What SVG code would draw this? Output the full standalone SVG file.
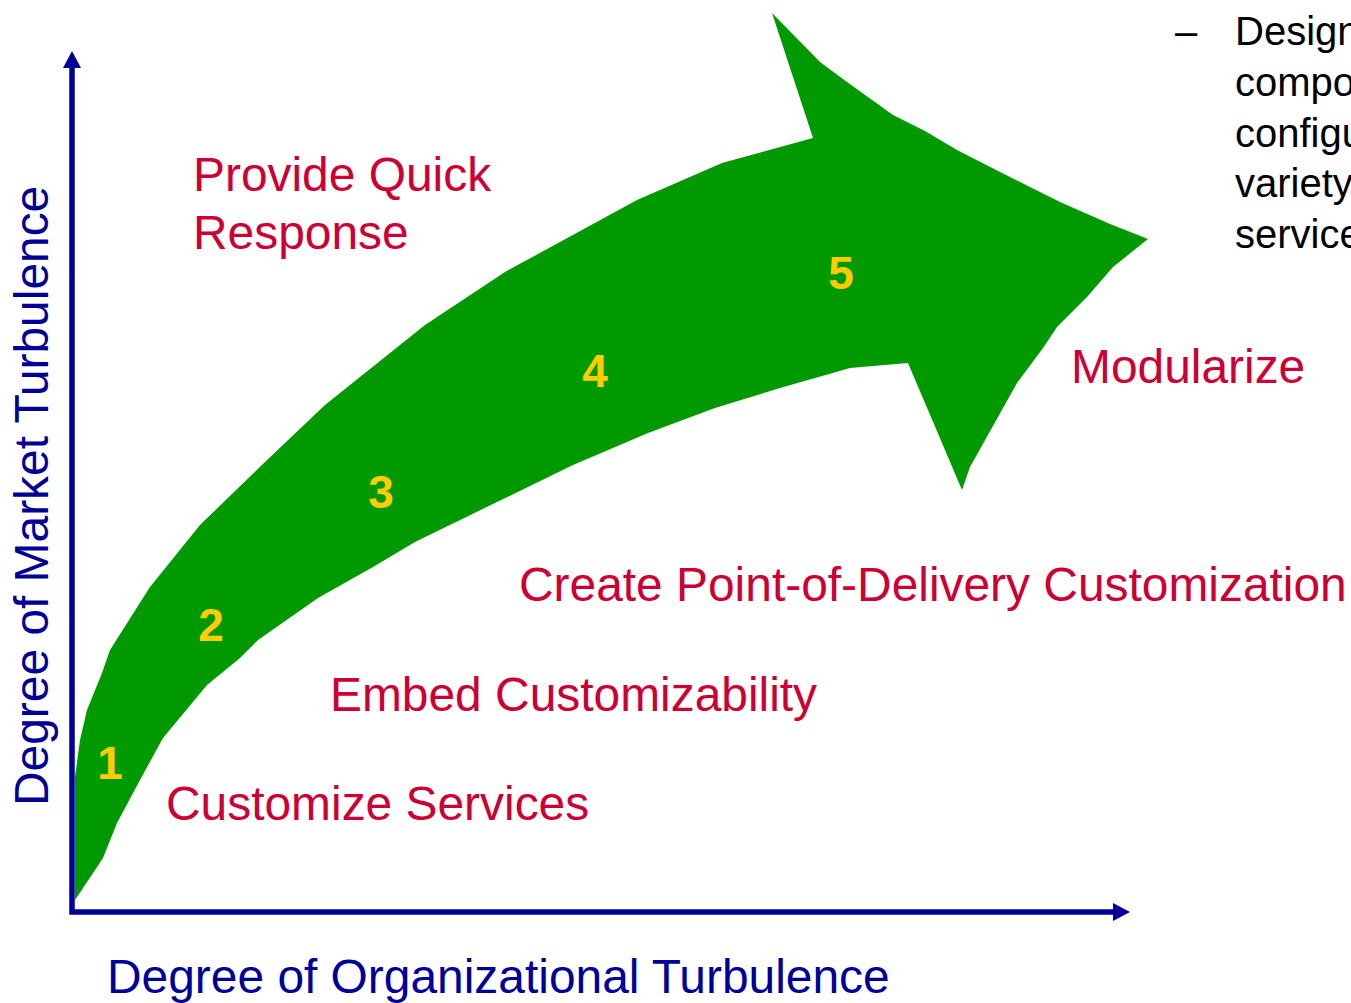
<svg xmlns="http://www.w3.org/2000/svg" width="1351" height="1003" viewBox="0 0 1351 1003">
<style>
  .lbl { font-family: "Liberation Sans", Arial, sans-serif; font-size: 47.9px; fill: #CC0033; }
  .ax { font-family: "Liberation Sans", Arial, sans-serif; font-size: 47.9px; fill: #000099; }
  .num { font-family: "Liberation Sans", Arial, sans-serif; font-size: 46px; font-weight: bold; fill: #FFCC00; text-anchor: middle; }
  .note { font-family: "Liberation Sans", Arial, sans-serif; font-size: 40px; fill: #000000; }
  .axis { stroke: #000099; stroke-width: 5.5; fill: none; }
</style>
<rect width="1351" height="1003" fill="#FFFFFF"/>
<g id="arrow">
  <polygon fill="#009900" points="75,900 75,777 80,740 87,710 102,673 110,650 150,587 200,525 265,462 325,405 425,325 505,272 637,200 722,163 813,138 772,13 820,62 847,82 893,115 925,131 957,150 1000,172 1060,202 1110,224 1148,239 1113,267 1087,297 1057,327 1043,348 1017,383 970,467 962,490 908,363 850,368 780,388 715,408 648,433 573,465 497,502 415,542 373,567 318,598 258,640 240,658 207,685 163,738 140,780 117,823 103,858"/>
</g>
<g id="axes">
  <polyline class="axis" points="72,68 72,912 1113,912"/>
  <polygon fill="#000099" points="72,51 63,68 81,68"/>
  <polygon fill="#000099" points="1130,912 1113,903 1113,921"/>
</g>
<g id="numbers">
  <text class="num" x="110" y="779">1</text>
  <text class="num" x="211" y="641">2</text>
  <text class="num" x="381" y="508">3</text>
  <text class="num" x="595" y="387">4</text>
  <text class="num" x="841" y="289">5</text>
</g>
<g id="labels">
  <text class="lbl" x="193" y="191">Provide Quick</text>
  <text class="lbl" x="193" y="249">Response</text>
  <text class="lbl" x="1071" y="383">Modularize</text>
  <text class="lbl" x="519" y="601">Create Point-of-Delivery Customization</text>
  <text class="lbl" x="330" y="711">Embed Customizability</text>
  <text class="lbl" x="166" y="820">Customize Services</text>
</g>
<g id="axis-labels">
  <text class="ax" x="107" y="993">Degree of Organizational Turbulence</text>
  <text class="ax" transform="translate(48,806) rotate(-90)">Degree of Market Turbulence</text>
</g>
<g id="note">
  <text class="note" x="1175" y="45">–</text>
  <text class="note" x="1235" y="45">Design</text>
  <text class="note" x="1235" y="96">compo</text>
  <text class="note" x="1235" y="147">configu</text>
  <text class="note" x="1235" y="197">variety</text>
  <text class="note" x="1235" y="248">service</text>
</g>
</svg>
